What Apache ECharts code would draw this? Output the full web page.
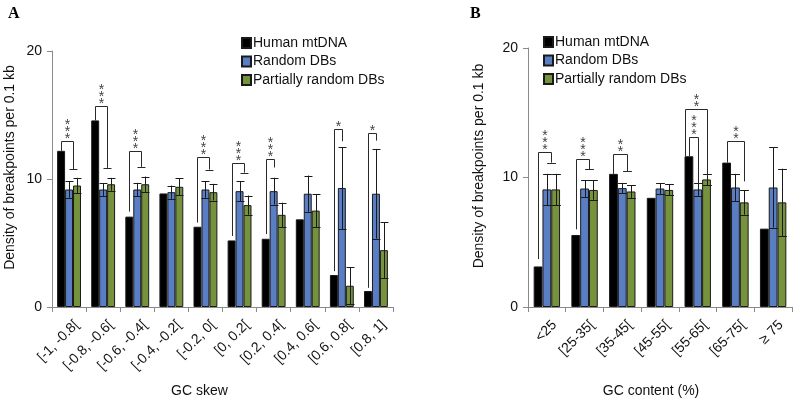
<!DOCTYPE html>
<html>
<head>
<meta charset="utf-8">
<script src="https://cdn.jsdelivr.net/npm/echarts@6/dist/echarts.min.js"></script>
<style>
  html, body { margin: 0; padding: 0; background: #fff; }
  #main { width: 797px; height: 403px; }
</style>
</head>
<body>
<div id="main"></div>
<script>
// panel A: GC skew
var skewCats = ['[-1, -0.8[', '[-0.8, -0.6[', '[-0.6, -0.4[', '[-0.4, -0.2[', '[-0.2, 0[', '[0, 0.2[', '[0.2, 0.4[', '[0.4, 0.6[', '[0.6, 0.8[', '[0.8, 1]'];
var skewHuman = [12.2, 14.58, 7.06, 8.87, 6.27, 5.2, 5.33, 6.85, 2.5, 1.25];
var skewRandom = [9.18, 9.18, 9.18, 8.97, 9.18, 9.05, 9.05, 8.85, 9.3, 8.85];
var skewRandomErr = [0.65, 0.5, 0.52, 0.52, 0.65, 0.78, 1.05, 1.42, 3.2, 3.5];
var skewPartial = [9.49, 9.59, 9.59, 9.39, 8.97, 7.96, 7.2, 7.53, 1.66, 4.44];
var skewPartialErr = [0.6, 0.5, 0.6, 0.65, 0.65, 0.75, 0.95, 1.3, 1.45, 2.17];
// significance brackets: [category, top, left end, right end]
var skewSig = [[0, 13.0, 12.2, 10.75], [1, 15.7, 14.58, 10.87], [2, 12.16, 7.45, 10.95], [4, 11.7, 6.6, 10.74],
               [5, 11.25, 5.55, 10.5], [6, 11.6, 5.7, 10.9], [8, 13.9, 2.8, 12.95], [9, 13.6, 1.5, 13.0]];
var skewSigTarget = ['bg', 'bg', 'bg', 'bg', 'bg', 'b', 'b', 'b'];
var skewSigStars = ['***', '***', '***', '***', '***', '***', '*', '*'];

// panel B: GC content
var gcCats = ['<25', '[25-35[', '[35-45[', '[45-55[', '[55-65[', '[65-75[', '≥ 75'];
var gcHuman = [3.13, 5.56, 10.28, 8.43, 11.64, 11.15, 6.05];
var gcRandom = [9.08, 9.15, 9.18, 9.15, 9.08, 9.23, 9.23];
var gcRandomErr = [1.2, 0.65, 0.4, 0.42, 0.5, 1.05, 3.1];
var gcPartial = [9.08, 9.04, 8.92, 9.04, 9.85, 8.08, 8.08];
var gcPartialErr = [1.2, 0.75, 0.5, 0.42, 0.45, 0.95, 2.6];
var gcSig = [[0, 12.0, 3.7, 11.15], [1, 11.44, 6.0, 10.65], [2, 11.85, 10.28, 10.5],
             [4, 15.28, 11.64, 10.1], [4, 13.1, 11.64, 9.5], [5, 12.82, 11.15, 9.7]];
var gcSigTarget = ['bg', 'bg', 'bg', 'g', 'b', 'g'];
var gcSigStars = ['***', '***', '**', '**', '***', '**'];

var yTicks = [0, 10, 20];
var names = ['Human mtDNA', 'Random DBs', 'Partially random DBs'];
var colors = ['#000000', '#5A7EC4', '#76923C'];

var FONT = '"Liberation Sans", Arial, sans-serif';
var GAP = 0.3;

function barW(api) {
    return api.size([1, 0])[0] * (1 - GAP) / 3;
}

function px(v) { return Math.round(v) + 0.5; }

function errRender(shift) {
    return function(params, api) {
        var cat = api.value(0);
        var lo = api.coord([cat, api.value(1)]);
        var hi = api.coord([cat, api.value(2)]);
        var bw = barW(api);
        var x = px(hi[0] + shift * bw);
        var c = bw / 2;
        var st = { stroke: '#1a1a1a', lineWidth: 1 };
        return {
            type: 'group',
            children: [
                { type: 'line', shape: { x1: x, y1: hi[1], x2: x, y2: lo[1] }, style: st },
                { type: 'line', shape: { x1: x - c, y1: px(hi[1]), x2: x + c, y2: px(hi[1]) }, style: st },
                { type: 'line', shape: { x1: x - c, y1: px(lo[1]), x2: x + c, y2: px(lo[1]) }, style: st }
            ]
        };
    };
}

function sigRender(list, targets, stars) {
    return function(params, api) {
        var i = params.dataIndex;
        var cat = api.value(0);
        var bw = barW(api);
        var top = api.coord([cat, api.value(1)]);
        var lb = api.coord([cat, api.value(2)]);
        var rb = api.coord([cat, api.value(3)]);
        var cx = top[0];
        var xl = cx - bw;
        // outer bracket of a nested pair sits a bit further left
        list.forEach(function(o, j) {
            if (j !== i && o[0] === list[i][0] && o[1] < list[i][1]) xl -= 4;
        });
        var t = targets[i];
        var xr = t === 'bg' ? cx + bw / 2 : (t === 'b' ? cx : cx + bw);
        xl = px(xl); xr = px(xr);
        var ty = px(top[1]);
        var st = { stroke: '#2a2a2a', lineWidth: 1, fill: null };
        var kids = [{
            type: 'polyline',
            shape: { points: [[xl, lb[1]], [xl, ty], [xr, ty], [xr, rb[1]]] },
            style: st
        }];
        if (t === 'bg') {
            kids.push({ type: 'line', shape: { x1: xr - bw / 2, y1: px(rb[1]), x2: xr + bw / 2, y2: px(rb[1]) }, style: st });
        }
        for (var k = 0; k < stars[i].length; k++) {
            kids.push({
                type: 'text',
                style: {
                    text: '*', x: (xl + xr) / 2, y: ty - 2 - k * 7.3,
                    fill: '#444', font: '14px ' + FONT,
                    textAlign: 'center', textVerticalAlign: 'middle'
                }
            });
        }
        return { type: 'group', children: kids };
    };
}

function errData(vals, errs) {
    return vals.map(function(v, i) { return [i, v - errs[i], v + errs[i]]; });
}

function panelSeries(idx, human, random, randomErr, partial, partialErr, sig, sigTarget, sigStars) {
    var border = { borderColor: '#1a1a1a', borderWidth: 1 };
    var list = [human, random, partial].map(function(d, k) {
        return {
            name: names[k], type: 'bar', xAxisIndex: idx, yAxisIndex: idx,
            data: d, barGap: '0%', barCategoryGap: (GAP * 100) + '%',
            itemStyle: Object.assign({ color: colors[k] }, border),
            emphasis: { disabled: true }, animation: false
        };
    });
    list.push({
        type: 'custom', xAxisIndex: idx, yAxisIndex: idx, renderItem: errRender(0),
        data: errData(random, randomErr), z: 5, silent: true, animation: false
    });
    list.push({
        type: 'custom', xAxisIndex: idx, yAxisIndex: idx, renderItem: errRender(1),
        data: errData(partial, partialErr), z: 5, silent: true, animation: false
    });
    list.push({
        type: 'custom', xAxisIndex: idx, yAxisIndex: idx, renderItem: sigRender(sig, sigTarget, sigStars),
        data: sig, z: 6, silent: true, animation: false
    });
    return list;
}

function xAxis(idx, cats, name, shiftPad) {
    return {
        type: 'category', gridIndex: idx, data: cats,
        name: name, nameLocation: 'middle', nameGap: 77,
        nameTextStyle: { fontFamily: FONT, fontSize: 14, color: '#111', padding: [0, shiftPad, 0, 0] },
        axisLine: { lineStyle: { color: '#8a8a8a' } },
        axisTick: { show: true, length: 5, lineStyle: { color: '#8a8a8a' } },
        axisLabel: {
            rotate: 45, margin: 8, fontFamily: FONT, fontSize: 14, color: '#111', interval: 0,
            verticalAlign: 'top', padding: [4, 0, 0, 0]
        }
    };
}

function yAxis(idx, gap) {
    return {
        type: 'value', gridIndex: idx, min: yTicks[0], max: yTicks[yTicks.length - 1], interval: 10,
        name: 'Density of breakpoints per 0.1 kb', nameLocation: 'middle', nameGap: gap,
        nameTextStyle: { fontFamily: FONT, fontSize: 14, color: '#111', padding: [0, 0, 0, 23] },
        axisLine: { show: true, lineStyle: { color: '#8a8a8a' } },
        axisTick: { show: true, length: 5, lineStyle: { color: '#8a8a8a' } },
        splitLine: { show: false },
        axisLabel: { fontFamily: FONT, fontSize: 14, color: '#111', margin: 10 }
    };
}

var legendBase = {
    orient: 'vertical', icon: 'rect', itemWidth: 9, itemHeight: 10, itemGap: 0.5,
    padding: 0, selectedMode: false,
    textStyle: { fontFamily: FONT, fontSize: 14, color: '#111', padding: [0, 0, 0, -3], lineHeight: 18 },
    data: names
};

var chart = echarts.init(document.getElementById('main'), null, { renderer: 'canvas' });
chart.setOption({
    backgroundColor: '#fff',
    animation: false,
    graphic: [
        { type: 'text', left: 8, top: 6, style: { text: 'A', font: 'bold 16px "Liberation Serif", serif', fill: '#000' } },
        { type: 'text', left: 470, top: 6, style: { text: 'B', font: 'bold 16px "Liberation Serif", serif', fill: '#000' } }
    ],
    legend: [
        Object.assign({ left: 241, top: 34 }, legendBase),
        Object.assign({ left: 543, top: 33 }, legendBase)
    ],
    grid: [
        { left: 52, right: 404, top: 51, bottom: 95 },
        { left: 528, right: 5, top: 48, bottom: 95 }
    ],
    xAxis: [xAxis(0, skewCats, 'GC skew', 46), xAxis(1, gcCats, 'GC content (%)', 18)],
    yAxis: [yAxis(0, 35), yAxis(1, 42)],
    series: panelSeries(0, skewHuman, skewRandom, skewRandomErr, skewPartial, skewPartialErr, skewSig, skewSigTarget, skewSigStars)
        .concat(panelSeries(1, gcHuman, gcRandom, gcRandomErr, gcPartial, gcPartialErr, gcSig, gcSigTarget, gcSigStars))
});
</script>
</body>
</html>
